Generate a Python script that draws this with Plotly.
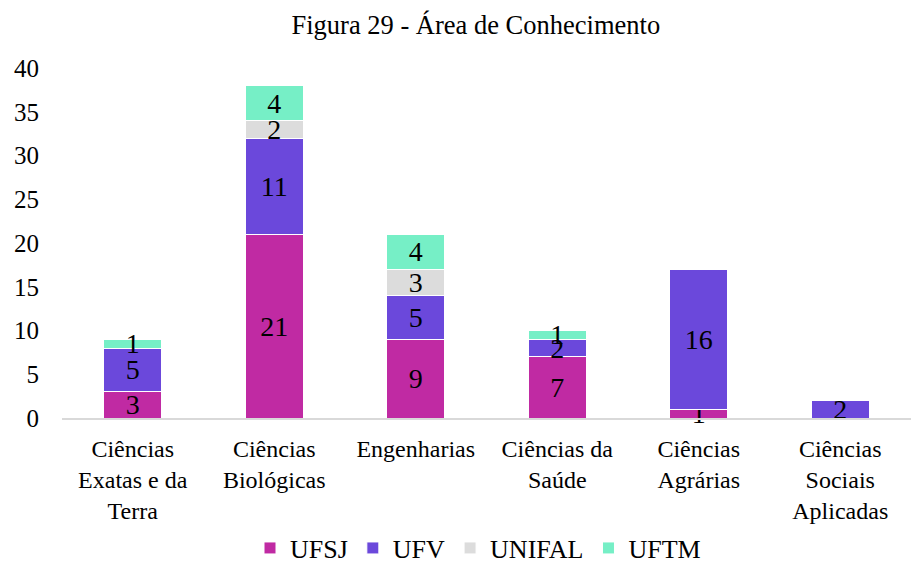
import plotly.graph_objects as go

categories = ["Ciências<br>Exatas e da<br>Terra", "Ciências<br>Biológicas", "Engenharias",
              "Ciências da<br>Saúde", "Ciências<br>Agrárias", "Ciências<br>Sociais<br>Aplicadas"]
ufsj = [3, 21, 9, 7, 1, 0]
ufv = [5, 11, 5, 2, 16, 2]
unifal = [0, 2, 3, 0, 0, 0]
uftm = [1, 4, 4, 1, 0, 0]

series = [("UFSJ", ufsj, "#C02AA3"), ("UFV", ufv, "#6B48DB"),
          ("UNIFAL", unifal, "#DCDCDC"), ("UFTM", uftm, "#76EFC6")]

font = "Liberation Serif, Times New Roman, serif"
fig = go.Figure()
for name, vals, color in series:
    fig.add_trace(go.Bar(
        x=categories, y=vals, name=name,
        marker=dict(color=color, line=dict(color="white", width=1)),
        text=[str(v) if v else "" for v in vals],
        textposition="inside", insidetextanchor="middle", textangle=0,
        textfont=dict(family=font, size=28, color="black"),
        constraintext="none", cliponaxis=False,
    ))

fig.update_layout(
    barmode="stack", bargap=0.59,
    width=915, height=565,
    paper_bgcolor="white", plot_bgcolor="white",
    margin=dict(l=62, r=4, t=68, b=147),
    title=dict(text="Figura 29 - Área de Conhecimento", x=0.52, xanchor="center",
               y=0.957, yanchor="middle", font=dict(family=font, size=26.5, color="black")),
    font=dict(family=font, size=24, color="black"),
    uniformtext=dict(minsize=28, mode="show"),
    legend=dict(orientation="h", x=0.49, xanchor="center", yref="container", y=0.03,
                yanchor="middle", font=dict(family=font, size=26), traceorder="normal"),
    showlegend=True,
)
fig.update_yaxes(range=[0, 40], dtick=5, showgrid=False, zeroline=False, showline=False,
                 tickfont=dict(family=font, size=25), ticks="", ticklabelstandoff=22,
                 automargin=False)
fig.update_xaxes(showline=True, linecolor="#D9D9D9", linewidth=1.5, showgrid=False,
                 tickfont=dict(family=font, size=24), ticks="", automargin=False,
                 ticklabelstandoff=8)

fig.write_html("out.html", config={"displayModeBar": False},
               post_script="document.body.style.margin='0';")
